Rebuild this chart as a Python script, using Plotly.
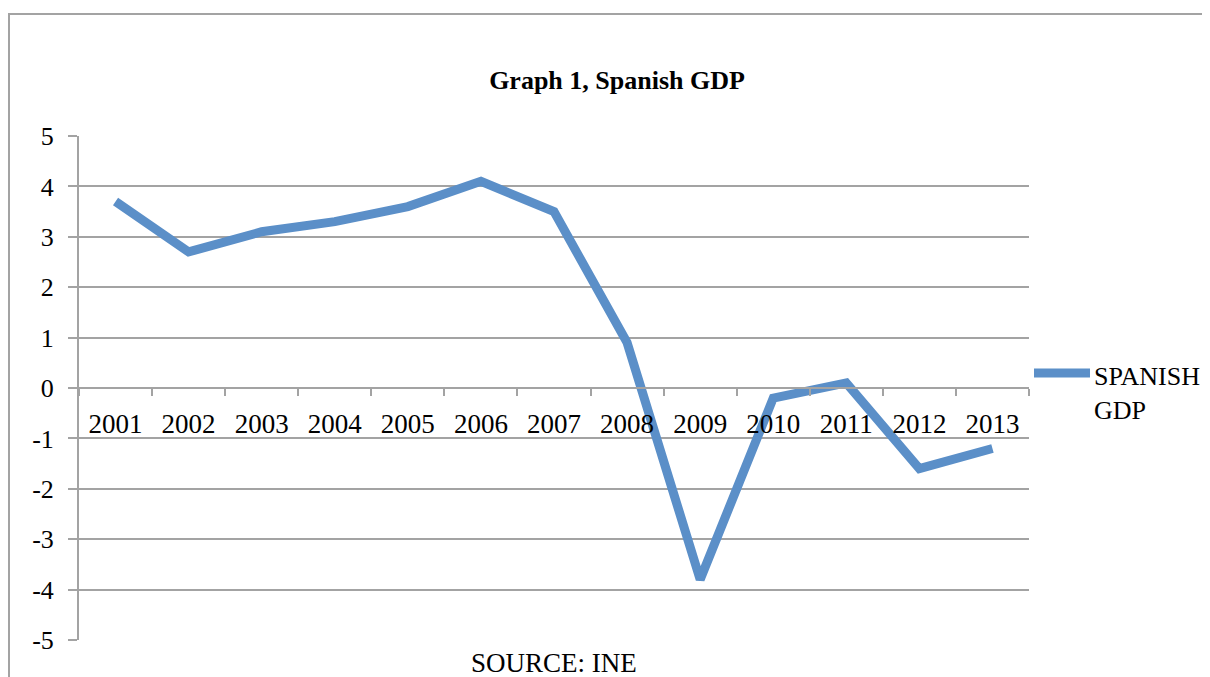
import plotly.graph_objects as go

years = ["2001", "2002", "2003", "2004", "2005", "2006", "2007",
         "2008", "2009", "2010", "2011", "2012", "2013"]
gdp = [3.7, 2.7, 3.1, 3.3, 3.6, 4.1, 3.5, 0.9, -3.8, -0.2, 0.1, -1.6, -1.2]
y_ticks = [-5, -4, -3, -2, -1, 0, 1, 2, 3, 4, 5]
y_tick_labels = ["-5", "-4", "-3", "-2", "-1", "0", "1", "2", "3", "4", "5"]
series_name = "SPANISH<br>GDP"
title_text = "Graph 1, Spanish GDP"
source_text = "SOURCE: INE"

LINE_COLOR = "#5B8FC8"
GRID = "#A3A3A3"
FONT = "Liberation Serif"

OFF = 8  # page body margin
W, H = 1210 - OFF, 677 - OFF
L, R, T, B = 79 - OFF, 1029 - OFF, 136 - OFF, 640 - OFF


def px_x(px):
    return (px - OFF - L) / (R - L)


def px_y(py):
    return (B - (py - OFF)) / (B - T)


fig = go.Figure()
fig.add_trace(go.Scatter(
    x=years, y=gdp, mode="lines", name=series_name,
    line=dict(color=LINE_COLOR, width=9), showlegend=False,
))

fig.update_layout(
    width=W, height=H,
    margin=dict(l=L, r=W - R, t=T, b=H - B, autoexpand=False),
    paper_bgcolor="white", plot_bgcolor="white",
    font=dict(family=FONT, color="black", size=26),
    title=dict(text="<b>" + title_text + "</b>", x=px_x(617), xref="paper",
               y=1 - (80 - OFF) / H, yref="container", xanchor="center", yanchor="middle",
               font=dict(family=FONT, size=26, color="black")),
    xaxis=dict(
        type="category", range=[-0.5, 12.5],
        anchor="free", position=0.5,
        showline=True, linecolor=GRID, linewidth=2,
        showgrid=False, zeroline=False,
        ticks="outside", ticklen=7, tickcolor=GRID, tickwidth=2,
        tickson="boundaries", ticklabelstandoff=12,
        tickfont=dict(family=FONT, size=27, color="black"),
    ),
    yaxis=dict(
        range=[-5, 5], tickmode="array", tickvals=y_ticks, ticktext=y_tick_labels,
        showline=True, linecolor=GRID, linewidth=2,
        showgrid=True, gridcolor=GRID, gridwidth=2,
        zeroline=False,
        ticks="outside", ticklen=9, tickcolor=GRID, tickwidth=2,
        ticklabelstandoff=9,
        tickfont=dict(family=FONT, size=26, color="black"),
    ),
    showlegend=False,
)

# outer chart frame
fig.add_shape(type="rect", xref="paper", yref="paper",
              x0=px_x(9), x1=px_x(1260), y0=px_y(720), y1=px_y(14),
              line=dict(color=GRID, width=2), fillcolor="rgba(0,0,0,0)", layer="below")

# legend swatch and label
fig.add_shape(type="line", xref="paper", yref="paper",
              x0=px_x(1034), x1=px_x(1090), y0=px_y(373), y1=px_y(373),
              line=dict(color=LINE_COLOR, width=9))
fig.add_annotation(text=series_name, xref="paper", yref="paper",
                   x=px_x(1092), y=px_y(393), xanchor="left", yanchor="middle",
                   showarrow=False, align="left",
                   font=dict(family=FONT, size=26, color="black"))

# source note
fig.add_annotation(text=source_text, xref="paper", yref="paper",
                   x=px_x(554), y=px_y(663), xanchor="center", yanchor="middle",
                   showarrow=False, font=dict(family=FONT, size=27, color="black"))

fig.write_html("out.html")
